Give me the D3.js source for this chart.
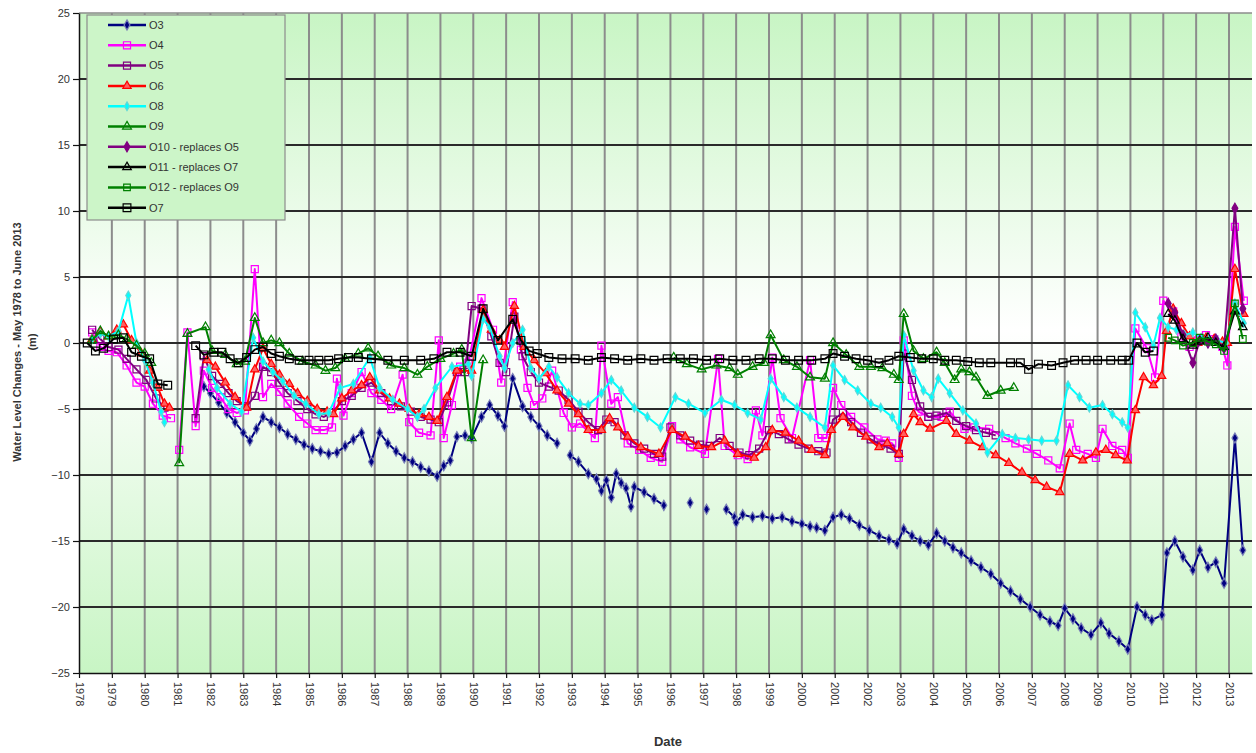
<!DOCTYPE html>
<html>
<head>
<meta charset="utf-8">
<script src="https://cdn.jsdelivr.net/npm/d3@7"></script>
<style>
body { margin: 0; background: #fff; }
svg { display: block; font-family: "Liberation Sans", Arial, sans-serif; }
</style>
</head>
<body>
<div></div>
<script>
// tick labels
let tickYears = [1978,1979,1980,1981,1982,1983,1984,1985,1986,1987,1988,1989,1990,1991,1992,1993,1994,1995,1996,1997,1998,1999,2000,2001,2002,2003,2004,2005,2006,2007,2008,2009,2010,2011,2012,2013]
let levelTicks = [-25,-20,-15,-10,-5,0,5,10,15,20,25]

let names = ["O3","O4","O5","O6","O8","O9","O10 - replaces O5","O11 - replaces O7","O12 - replaces O9","O7"]

// [year, water level change (m)], null = break in the line
let O3 = [[1981.8,-3.3],[1982.0,-3.8],[1982.25,-4.5],[1982.5,-5.3],[1982.75,-6.0],[1983.0,-6.8],[1983.2,-7.4],[1983.4,-6.5],[1983.6,-5.6],[1983.85,-6.0],[1984.1,-6.4],[1984.35,-6.9],[1984.6,-7.3],[1984.85,-7.7],[1985.1,-8.0],[1985.35,-8.2],[1985.6,-8.4],[1985.85,-8.3],[1986.1,-7.8],[1986.35,-7.3],[1986.6,-6.8],[1986.9,-9.0],[1987.15,-6.8],[1987.4,-7.6],[1987.65,-8.2],[1987.9,-8.7],[1988.15,-9.0],[1988.4,-9.4],[1988.65,-9.7],[1988.9,-10.1],[1989.1,-9.3],[1989.3,-8.9],[1989.5,-7.1],[1989.75,-7.0],[1989.95,-7.2],[1990.25,-5.6],[1990.5,-4.7],[1990.75,-5.5],[1990.95,-6.3],[1991.2,-2.7],[1991.5,-4.8],[1991.75,-5.6],[1992.0,-6.3],[1992.25,-7.0],[1992.55,-7.6],[1992.75,null],[1992.95,-8.5],[1993.2,-9.0],[1993.5,-9.9],[1993.75,-10.3],[1993.9,-11.2],[1994.05,-10.4],[1994.2,-11.7],[1994.35,-9.9],[1994.5,-10.6],[1994.65,-11.0],[1994.8,-12.4],[1994.9,-10.9],[1995.2,-11.3],[1995.5,-11.8],[1995.8,-12.3],[1996.2,null],[1996.6,-12.1],[1996.85,null],[1997.1,-12.6],[1997.4,null],[1997.7,-12.6],[1997.95,-13.2],[1998.0,-13.6],[1998.2,-13.0],[1998.5,-13.2],[1998.8,-13.1],[1999.1,-13.3],[1999.4,-13.2],[1999.7,-13.5],[2000.0,-13.7],[2000.25,-13.9],[2000.45,-14.0],[2000.7,-14.2],[2000.95,-13.2],[2001.2,-13.0],[2001.45,-13.3],[2001.75,-13.8],[2002.05,-14.2],[2002.35,-14.6],[2002.65,-14.9],[2002.9,-15.2],[2003.1,-14.1],[2003.35,-14.6],[2003.6,-15.0],[2003.85,-15.3],[2004.1,-14.4],[2004.35,-15.0],[2004.6,-15.5],[2004.85,-15.9],[2005.15,-16.5],[2005.45,-17.0],[2005.75,-17.5],[2006.05,-18.2],[2006.35,-18.8],[2006.65,-19.4],[2006.95,-20.0],[2007.25,-20.6],[2007.55,-21.1],[2007.8,-21.4],[2008.0,-20.1],[2008.25,-20.9],[2008.5,-21.6],[2008.8,-22.1],[2009.1,-21.2],[2009.35,-22.0],[2009.65,-22.6],[2009.92,-23.2],[2010.2,-20.0],[2010.45,-20.6],[2010.65,-21.0],[2010.96,-20.6],[2011.11,-15.9],[2011.35,-15.0],[2011.6,-16.2],[2011.9,-17.2],[2012.11,-15.7],[2012.36,-17.0],[2012.6,-16.6],[2012.85,-18.2],[2013.18,-7.2],[2013.42,-15.7]]

let O4 = [[1978.4,0.8],[1978.65,-0.3],[1978.9,-0.6],[1979.15,-0.7],[1979.45,-1.7],[1979.75,-3.0],[1980.0,-3.3],[1980.25,-4.6],[1980.55,-5.5],[1980.8,-5.7],[1980.95,null],[1981.05,-8.1],[1981.3,0.8],[1981.55,-6.3],[1981.8,-2.1],[1982.05,-3.4],[1982.3,-4.1],[1982.55,-5.0],[1982.8,-5.3],[1983.05,-5.1],[1983.35,5.6],[1983.6,-4.1],[1983.85,-3.1],[1984.1,-3.7],[1984.35,-4.6],[1984.7,-5.6],[1984.95,-6.1],[1985.2,-6.6],[1985.45,-6.6],[1985.7,-6.4],[1985.85,-2.7],[1986.05,-5.5],[1986.3,-3.8],[1986.6,-2.2],[1986.9,-3.8],[1987.2,-4.3],[1987.5,-5.0],[1987.85,-2.4],[1988.05,-6.0],[1988.35,-6.8],[1988.7,-7.0],[1988.95,0.2],[1989.1,-7.2],[1989.35,-4.7],[1989.6,-1.8],[1989.85,-1.5],[1990.25,3.4],[1990.6,1.0],[1990.85,-3.0],[1991.2,3.1],[1991.45,-0.5],[1991.65,-3.4],[1991.85,-4.7],[1992.1,-4.2],[1992.4,-2.1],[1992.75,-5.3],[1993.0,-6.4],[1993.25,-6.1],[1993.7,-7.2],[1993.9,-0.2],[1994.2,-4.6],[1994.4,-4.1],[1994.7,-7.6],[1995.05,-8.1],[1995.4,-8.7],[1995.75,-9.0],[1996.05,-6.3],[1996.3,-7.3],[1996.6,-7.9],[1997.05,-8.4],[1997.45,-1.2],[1997.65,-7.8],[1998.05,-8.5],[1998.35,-8.8],[1998.6,-5.1],[1998.8,-7.0],[1999.1,-1.1],[1999.35,-5.7],[1999.7,-7.2],[2000.25,-1.3],[2000.5,-7.2],[2000.75,-7.2],[2000.95,-3.4],[2001.2,-4.7],[2001.5,-5.6],[2001.9,-6.4],[2002.3,-7.3],[2002.55,-7.4],[2002.75,-7.6],[2002.95,-8.7],[2003.1,0.2],[2003.35,-4.0],[2003.55,-5.2],[2003.85,-5.6],[2004.25,-5.6],[2004.5,-5.2],[2004.95,-6.5],[2005.25,-6.4],[2005.7,-6.5],[2006.2,-7.2],[2006.5,-7.6],[2006.85,-8.0],[2007.15,-8.4],[2007.5,-8.9],[2007.85,-9.5],[2008.15,-6.1],[2008.35,-8.1],[2008.7,-8.4],[2008.95,-8.7],[2009.15,-6.5],[2009.45,-7.8],[2009.75,-8.1],[2009.92,-8.7],[2010.15,1.1],[2010.5,-0.4],[2010.75,-2.6],[2011.0,3.2],[2011.3,2.4],[2011.55,0.5],[2011.8,-0.3],[2012.05,0.2],[2012.3,0.6],[2012.55,0.3],[2012.8,-0.3],[2012.95,-1.7],[2013.18,8.8],[2013.45,3.2]]

let O5 = [[1978.4,1.0],[1978.65,0.3],[1978.9,-0.3],[1979.2,-0.5],[1979.45,-1.2],[1979.75,-2.0],[1980.05,-2.8],[1980.35,-4.2],[1980.6,-4.9],[1981.0,null],[1981.55,-5.7],[1981.8,-1.0],[1982.05,-2.5],[1982.3,-3.1],[1982.55,-3.8],[1982.8,-4.4],[1983.1,-4.8],[1983.35,-4.0],[1983.6,-1.8],[1983.85,-2.2],[1984.1,-3.0],[1984.35,-3.8],[1984.65,-4.4],[1984.95,-5.0],[1985.2,-5.4],[1985.45,-5.6],[1985.7,-5.3],[1986.0,-4.4],[1986.3,-4.0],[1986.6,-3.4],[1986.9,-3.0],[1987.2,-3.8],[1987.5,-4.4],[1987.8,-4.8],[1988.1,-5.2],[1988.4,-5.6],[1988.7,-5.8],[1988.95,-6.0],[1989.2,-4.5],[1989.5,-2.2],[1989.75,-2.2],[1989.95,2.8],[1990.25,2.6],[1990.55,0.5],[1990.8,-1.5],[1991.0,-2.2],[1991.25,2.0],[1991.5,-1.0],[1991.75,-2.2],[1992.0,-3.0],[1992.3,-3.3],[1992.6,-3.6],[1992.9,-4.3],[1993.2,-5.2],[1993.5,-6.0],[1993.8,-6.6],[1994.05,-5.8],[1994.3,-6.0],[1994.6,-7.0],[1994.9,-7.6],[1995.2,-8.0],[1995.5,-8.4],[1995.75,-8.6],[1996.0,-6.4],[1996.3,-7.0],[1996.6,-7.4],[1996.9,-7.7],[1997.2,-7.8],[1997.5,-7.2],[1997.8,-7.8],[1998.1,-8.3],[1998.4,-8.5],[1998.7,-8.0],[1999.0,-6.6],[1999.3,-6.9],[1999.6,-7.3],[1999.9,-7.7],[2000.2,-8.0],[2000.5,-8.2],[2000.75,-8.3],[2000.95,-5.8],[2001.25,-5.3],[2001.5,-6.0],[2001.8,-6.8],[2002.1,-7.3],[2002.4,-7.7],[2002.7,-8.0],[2002.95,-8.4],[2003.1,-0.8],[2003.35,-2.8],[2003.6,-4.8],[2003.85,-5.6],[2004.1,-5.5],[2004.4,-5.3],[2004.7,-5.9],[2005.0,-6.3],[2005.3,-6.6],[2005.6,-6.8],[2005.9,-7.0]]

let O6 = [[1978.4,0.3],[1978.65,0.8],[1978.9,0.5],[1979.15,1.0],[1979.35,1.4],[1979.6,0.2],[1979.9,-0.8],[1980.15,-2.1],[1980.4,-3.4],[1980.6,-4.6],[1980.75,-4.9],[1981.3,null],[1981.9,-1.3],[1982.15,-1.8],[1982.45,-3.0],[1982.75,-4.1],[1983.1,-4.9],[1983.35,-2.0],[1983.6,-0.4],[1983.85,-1.6],[1984.1,-2.4],[1984.4,-3.1],[1984.65,-3.8],[1984.95,-4.4],[1985.25,-5.0],[1985.55,-5.2],[1985.75,-5.4],[1986.0,-4.2],[1986.3,-3.6],[1986.6,-3.2],[1986.85,-2.6],[1987.15,-3.6],[1987.45,-4.2],[1987.75,-4.6],[1988.05,-5.0],[1988.35,-5.4],[1988.65,-5.6],[1988.9,-5.9],[1989.2,-4.1],[1989.5,-2.1],[1989.95,-2.1],[1990.3,2.5],[1990.55,1.0],[1990.8,0.2],[1990.95,-0.3],[1991.25,2.8],[1991.55,-0.3],[1991.85,-1.3],[1992.2,-2.3],[1992.55,-3.6],[1992.9,-4.6],[1993.2,-5.4],[1993.5,-6.6],[1993.9,-6.6],[1994.15,-5.7],[1994.4,-6.4],[1994.7,-7.1],[1995.1,-7.9],[1995.65,-8.4],[1996.05,-6.6],[1996.45,-7.1],[1996.85,-7.8],[1997.25,-7.9],[1997.65,-7.4],[1998.05,-8.4],[1998.55,-8.7],[1998.9,-7.9],[1999.1,-6.6],[1999.5,-6.8],[1999.9,-7.4],[2000.3,-8.1],[2000.7,-8.5],[2000.9,-6.6],[2001.25,-5.6],[2001.55,-6.4],[2001.95,-7.1],[2002.35,-7.9],[2002.6,-7.6],[2002.95,-8.4],[2003.1,-6.9],[2003.4,-5.4],[2003.6,-6.0],[2003.9,-6.5],[2004.4,-5.9],[2004.7,-6.9],[2005.1,-7.4],[2005.5,-7.9],[2005.9,-8.5],[2006.3,-9.1],[2006.7,-9.8],[2007.1,-10.4],[2007.45,-10.9],[2007.85,-11.3],[2008.15,-8.4],[2008.55,-8.9],[2008.95,-8.3],[2009.25,-8.1],[2009.55,-8.5],[2009.9,-8.9],[2010.15,-5.1],[2010.4,-2.6],[2010.7,-3.2],[2010.95,-2.5],[2011.1,0.9],[2011.3,2.6],[2011.55,1.5],[2011.8,0.5],[2012.05,0.0],[2012.3,0.4],[2012.55,0.3],[2012.8,0.1],[2012.95,0.0],[2013.18,5.6],[2013.45,2.2]]

let O8 = [[1978.4,0.3],[1978.65,0.7],[1978.9,0.5],[1979.2,0.9],[1979.5,3.6],[1979.75,0.0],[1980.0,-1.3],[1980.25,-3.0],[1980.5,-5.2],[1980.6,-6.0],[1981.2,null],[1981.95,-2.0],[1982.2,-3.4],[1982.6,-4.6],[1982.95,-5.2],[1983.3,0.4],[1983.6,-1.4],[1983.9,-2.2],[1984.2,-2.9],[1984.55,-4.0],[1984.9,-4.6],[1985.3,-5.4],[1985.6,-5.3],[1985.95,-3.4],[1986.35,-3.1],[1986.85,-1.1],[1987.15,-3.4],[1987.55,-4.3],[1988.0,-5.0],[1988.3,-5.6],[1988.5,-5.0],[1988.85,-3.4],[1989.35,-1.8],[1989.85,-1.6],[1989.95,-2.5],[1990.3,1.8],[1990.5,1.2],[1990.8,-1.0],[1990.95,-1.9],[1991.2,0.0],[1991.5,1.0],[1991.75,-1.9],[1992.0,-2.7],[1992.3,-1.8],[1992.55,-2.6],[1992.9,-3.8],[1993.25,-4.6],[1993.5,-4.7],[1993.9,-3.8],[1994.2,-2.8],[1994.5,-3.6],[1994.9,-4.9],[1995.3,-5.6],[1995.7,-6.4],[1996.15,-4.1],[1996.55,-4.6],[1997.05,-5.3],[1997.55,-4.3],[1997.95,-4.7],[1998.35,-5.3],[1998.75,-5.8],[1999.05,-2.7],[1999.45,-4.1],[1999.85,-4.9],[2000.25,-5.6],[2000.7,-6.4],[2000.95,-1.7],[2001.3,-2.8],[2001.7,-3.6],[2002.1,-4.6],[2002.4,-4.9],[2002.75,-5.6],[2002.95,-6.4],[2003.1,0.6],[2003.4,-2.1],[2003.7,-3.6],[2003.95,-4.1],[2004.15,-2.7],[2004.5,-3.8],[2004.9,-5.1],[2005.3,-6.1],[2005.65,-8.3],[2006.1,-6.9],[2006.5,-7.2],[2006.9,-7.3],[2007.3,-7.4],[2007.75,-7.4],[2008.1,-3.2],[2008.45,-4.1],[2008.75,-4.9],[2009.15,-4.7],[2009.45,-5.4],[2009.75,-6.0],[2009.92,-6.4],[2010.15,2.3],[2010.45,1.2],[2010.7,-0.2],[2010.9,1.9],[2011.15,1.2],[2011.4,1.0],[2011.65,0.6],[2011.9,0.8],[2012.15,0.4],[2012.4,0.3],[2012.65,0.2],[2012.9,0.0],[2013.18,3.0],[2013.45,1.5]]

let O9 = [[1978.4,0.2],[1978.65,0.9],[1978.9,0.5],[1979.2,0.6],[1979.45,0.3],[1979.75,-0.2],[1980.0,-0.8],[1980.2,-1.5],[1980.6,null],[1981.05,-9.1],[1981.3,0.7],[1981.85,1.2],[1982.05,-0.6],[1982.45,-0.9],[1982.8,-1.6],[1983.05,-1.4],[1983.35,1.9],[1983.6,0.0],[1983.85,0.2],[1984.1,0.0],[1984.4,-0.8],[1984.8,-1.4],[1985.2,-1.7],[1985.5,-2.1],[1985.8,-1.9],[1986.1,-1.2],[1986.5,-0.8],[1986.8,-0.4],[1987.1,-1.0],[1987.5,-1.7],[1987.9,-1.9],[1988.3,-2.4],[1988.6,-1.8],[1989.0,-1.2],[1989.4,-0.8],[1989.65,-0.5],[1989.95,-7.2],[1990.3,-1.3],[1993.0,null],[1996.1,-1.1],[1996.5,-1.6],[1996.95,-2.0],[1997.4,-1.7],[1997.8,-1.9],[1998.05,-2.4],[1998.5,-1.8],[1998.85,-1.5],[1999.05,0.6],[1999.45,-1.3],[1999.85,-1.8],[2000.25,-2.6],[2000.7,-2.7],[2000.95,0.0],[2001.35,-0.9],[2001.75,-1.8],[2002.1,-1.8],[2002.45,-1.9],[2002.8,-2.4],[2002.95,-2.8],[2003.1,2.2],[2003.4,-0.6],[2003.7,-1.2],[2004.1,-0.7],[2004.35,-1.5],[2004.65,-2.8],[2004.85,-2.0],[2005.1,-2.2],[2005.3,-2.6],[2005.65,-4.0],[2006.05,-3.6],[2006.45,-3.4]]

let O10 = [[2011.15,3.0],[2011.35,2.3],[2011.6,0.6],[2011.9,-1.5],[2012.11,0.2],[2012.36,0.0],[2012.6,0.3],[2012.85,-0.4],[2013.18,10.2],[2013.42,2.6]]

let O11 = [[2011.15,2.2],[2011.35,1.7],[2011.6,0.3],[2011.9,-0.2],[2012.11,0.1],[2012.36,0.4],[2012.6,0.0],[2012.85,-0.3],[2013.18,2.4],[2013.42,1.2]]

let O12 = [[2011.15,0.4],[2011.35,0.2],[2011.6,-0.2],[2011.9,0.0],[2012.11,0.4],[2012.36,0.1],[2012.6,-0.1],[2012.85,-0.6],[2013.18,3.0],[2013.42,0.3]]

let O7 = [[1978.25,0.0],[1978.5,-0.6],[1978.75,-0.4],[1979.05,0.3],[1979.35,0.4],[1979.6,-0.7],[1979.9,-1.0],[1980.15,-1.2],[1980.4,-3.1],[1980.7,-3.2],[1981.1,null],[1981.55,-0.2],[1981.8,-0.9],[1982.1,-0.7],[1982.35,-0.7],[1982.6,-1.2],[1982.85,-1.5],[1983.1,-1.1],[1983.35,-0.5],[1983.6,-0.3],[1983.85,-0.8],[1984.1,-1.0],[1984.4,-1.2],[1984.7,-1.3],[1985.0,-1.3],[1985.3,-1.3],[1985.6,-1.3],[1985.9,-1.2],[1986.2,-1.1],[1986.5,-1.1],[1986.9,-1.2],[1987.4,-1.3],[1987.9,-1.3],[1988.4,-1.3],[1988.8,-1.2],[1989.2,-0.7],[1989.6,-0.7],[1989.95,-1.0],[1990.3,2.6],[1990.75,0.2],[1991.2,1.8],[1991.45,0.2],[1991.7,-0.6],[1991.95,-0.8],[1992.3,-1.1],[1992.7,-1.2],[1993.1,-1.2],[1993.5,-1.3],[1993.9,-1.1],[1994.3,-1.2],[1994.7,-1.3],[1995.1,-1.2],[1995.5,-1.3],[1995.9,-1.2],[1996.3,-1.2],[1996.7,-1.2],[1997.1,-1.3],[1997.5,-1.2],[1997.9,-1.3],[1998.3,-1.3],[1998.7,-1.2],[1999.1,-1.2],[1999.5,-1.3],[1999.9,-1.3],[2000.3,-1.3],[2000.7,-1.2],[2000.95,-0.8],[2001.3,-1.0],[2001.65,-1.2],[2002.0,-1.3],[2002.35,-1.5],[2002.65,-1.3],[2002.95,-1.0],[2003.3,-1.1],[2003.65,-1.2],[2004.0,-1.2],[2004.35,-1.3],[2004.7,-1.3],[2005.05,-1.4],[2005.4,-1.5],[2005.75,-1.5],[2006.35,-1.5],[2006.65,-1.5],[2006.9,-2.0],[2007.2,-1.6],[2007.6,-1.7],[2007.95,-1.5],[2008.3,-1.3],[2008.65,-1.3],[2009.0,-1.3],[2009.4,-1.3],[2009.75,-1.3],[2009.95,-1.3],[2010.2,0.0],[2010.45,-0.7],[2010.7,-0.6]]

let allSeries = [O3, O4, O5, O6, O8, O9, O10, O11, O12, O7]

// look of each series (same order as names)
let looks = [
  {color: "#000080", shape: d3.symbolDiamond, size: 30, fill: "#000080", edge: "#7a80b8"},
  {color: "#ff00ff", shape: d3.symbolSquare, size: 50, fill: "none", edge: "#ff00ff"},
  {color: "#800080", shape: d3.symbolSquare, size: 50, fill: "none", edge: "#800080"},
  {color: "#ff0000", shape: d3.symbolTriangle, size: 30, fill: "#ff6060", edge: "#ff0000"},
  {color: "#00ffff", shape: d3.symbolDiamond, size: 22, fill: "#00ffff", edge: "#60d8d8"},
  {color: "#008000", shape: d3.symbolTriangle, size: 34, fill: "none", edge: "#008000"},
  {color: "#800080", shape: d3.symbolDiamond, size: 30, fill: "#800080", edge: "#800080"},
  {color: "#000000", shape: d3.symbolTriangle, size: 32, fill: "none", edge: "#000000"},
  {color: "#008000", shape: d3.symbolSquare, size: 44, fill: "none", edge: "#008000"},
  {color: "#000000", shape: d3.symbolSquare, size: 60, fill: "none", edge: "#000000"}
]

let w = 1256, h = 753
let plotLeft = 79, plotRight = 1252, plotTop = 13, plotBottom = 673

let svg = d3.select("div").append("svg").attr("width", w).attr("height", h)

let xScale = d3.scaleLinear().domain([1978, 2013.7]).range([plotLeft, plotRight])
let yScale = d3.scaleLinear().domain([-25, 25]).range([plotBottom, plotTop])

// plot background: green at top and bottom, white in the middle
let grad = svg.append("defs").append("linearGradient").attr("id", "bg")
  .attr("x1", 0).attr("y1", 0).attr("x2", 0).attr("y2", 1)
grad.append("stop").attr("offset", "0%").attr("stop-color", "#c8f5c4")
grad.append("stop").attr("offset", "48%").attr("stop-color", "#ffffff")
grad.append("stop").attr("offset", "100%").attr("stop-color", "#c8f5c4")

svg.append("rect").attr("x", plotLeft).attr("y", plotTop)
  .attr("width", plotRight - plotLeft).attr("height", plotBottom - plotTop)
  .attr("fill", "url(#bg)")

// grid
svg.append("g").selectAll("line").data(tickYears.slice(1)).enter().append("line")
  .attr("x1", d => xScale(d)).attr("x2", d => xScale(d))
  .attr("y1", plotTop).attr("y2", plotBottom)
  .attr("stroke", "#8c8c8c").attr("stroke-width", 2)

svg.append("g").selectAll("line").data(levelTicks.slice(1, -1)).enter().append("line")
  .attr("x1", plotLeft).attr("x2", plotRight)
  .attr("y1", d => yScale(d)).attr("y2", d => yScale(d))
  .attr("stroke", "#2a2a2a").attr("stroke-width", 1.8)

svg.append("line").attr("x1", plotLeft).attr("x2", plotRight).attr("y1", plotTop).attr("y2", plotTop)
  .attr("stroke", "#8c8c8c").attr("stroke-width", 1.5)

// axes
let yAxis = d3.axisLeft(yScale).tickValues(levelTicks).tickSize(6).tickSizeOuter(0)
let yg = svg.append("g").attr("transform", "translate(" + plotLeft + ",0)").call(yAxis)
yg.select(".domain").attr("stroke", "#111").attr("stroke-width", 1.5)
yg.selectAll(".tick line").attr("stroke", "#111").attr("stroke-width", 1.2)
yg.selectAll(".tick text").attr("font-size", 11).attr("fill", "#333").attr("x", -9)

let xAxis = d3.axisBottom(xScale).tickValues(tickYears).tickFormat(d3.format("d")).tickSize(5).tickSizeOuter(0)
let xg = svg.append("g").attr("transform", "translate(0," + plotBottom + ")").call(xAxis)
xg.select(".domain").attr("stroke", "#111").attr("stroke-width", 1.5)
xg.selectAll(".tick line").attr("stroke", "#111").attr("stroke-width", 1.2)
xg.selectAll(".tick text")
  .attr("font-size", 11).attr("fill", "#333")
  .attr("x", 9).attr("y", 0).attr("dy", "0.35em")
  .attr("text-anchor", "start")
  .attr("transform", "rotate(90)")

// titles
svg.append("text").attr("x", 668).attr("y", 746).attr("text-anchor", "middle")
  .attr("font-size", 13).attr("font-weight", "bold").attr("fill", "#333").text("Date")

svg.append("text").attr("transform", "translate(21,342) rotate(-90)").attr("text-anchor", "middle")
  .attr("font-size", 11).attr("font-weight", "bold").attr("fill", "#333")
  .text("Water Level Changes - May 1978 to June 2013")
svg.append("text").attr("transform", "translate(36,342) rotate(-90)").attr("text-anchor", "middle")
  .attr("font-size", 11).attr("font-weight", "bold").attr("fill", "#333")
  .text("(m)")

// series
let line = d3.line()
  .defined(d => d[1] !== null)
  .x(d => xScale(d[0]))
  .y(d => yScale(d[1]))

let plot = svg.append("g")
allSeries.forEach((data, i) => {
  let look = looks[i]
  plot.append("path").datum(data)
    .attr("d", line)
    .attr("fill", "none")
    .attr("stroke", look.color)
    .attr("stroke-width", 2)
    .attr("stroke-linejoin", "round")

  plot.append("g").selectAll("path")
    .data(data.filter(d => d[1] !== null))
    .enter().append("path")
    .attr("d", d3.symbol().type(look.shape).size(look.size))
    .attr("transform", d => "translate(" + xScale(d[0]) + "," + yScale(d[1]) + ")")
    .attr("fill", look.fill)
    .attr("stroke", look.edge)
    .attr("stroke-width", 1.2)
})

// legend
let legend = svg.append("g")
legend.append("rect").attr("x", 87).attr("y", 15).attr("width", 198).attr("height", 205)
  .attr("fill", "#ccf5c8").attr("stroke", "#8c8c8c").attr("stroke-width", 1.2)

names.forEach((name, i) => {
  let look = looks[i]
  let ly = 25 + i * 20.3
  legend.append("line").attr("x1", 108).attr("x2", 146).attr("y1", ly).attr("y2", ly)
    .attr("stroke", look.color).attr("stroke-width", 2.5)
  legend.append("path").attr("d", d3.symbol().type(look.shape).size(look.size))
    .attr("transform", "translate(127," + ly + ")")
    .attr("fill", look.fill).attr("stroke", look.edge).attr("stroke-width", 1.2)
  legend.append("text").attr("x", 149).attr("y", ly).attr("dy", "0.35em")
    .attr("font-size", 11).attr("fill", "#333").text(name)
})
</script>
</body>
</html>
